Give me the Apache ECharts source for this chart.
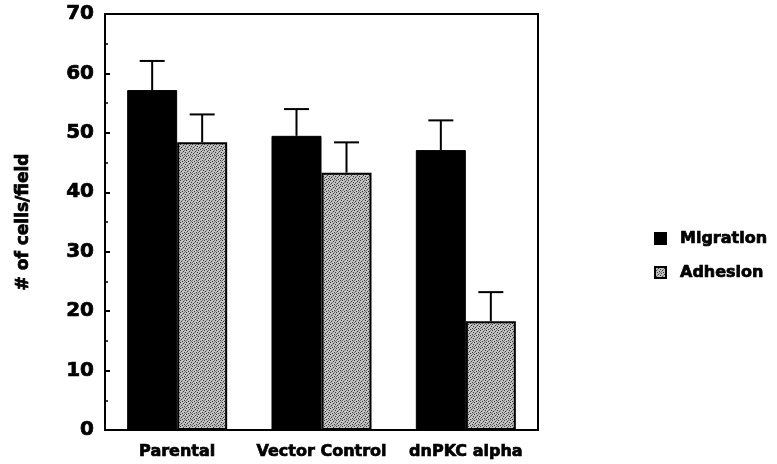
<!DOCTYPE html>
<html>
<head>
<meta charset="utf-8">
<script src="https://cdn.jsdelivr.net/npm/echarts@6/dist/echarts.min.js"></script>
<style>
  html, body { margin: 0; padding: 0; background: #fff; }
  #chart { width: 777px; height: 464px; }
</style>
</head>
<body>
<div id="chart"></div>
<script>
// Cell counts per field for each cell line
const categories = ['Parental', 'Vector Control', 'dnPKC alpha'];
const migration = [57.2, 49.5, 47.1];
const migrationHi = [62.1, 54.0, 52.1];
const adhesion = [48.4, 43.3, 18.3];
const adhesionHi = [53.1, 48.4, 23.2];
const yTicks = [0, 10, 20, 30, 40, 50, 60, 70];

// Stippled grey fill used for the adhesion bars
function stipple() {
  const c = document.createElement('canvas');
  c.width = 6; c.height = 6;
  const g = c.getContext('2d');
  g.fillStyle = '#c0c0c0';
  g.fillRect(0, 0, 6, 6);
  g.fillStyle = '#3a3a3a';
  const dots = [[0,0],[3,1],[1,3],[4,4],[2,5],[5,2]];
  dots.forEach(([x, y]) => g.fillRect(x, y, 1, 1));
  g.fillStyle = '#7a7a7a';
  [[2,2],[5,5],[0,4],[4,0]].forEach(([x, y]) => g.fillRect(x, y, 1, 1));
  return { image: c, repeat: 'repeat' };
}
const adhesionFill = stipple();

const font = '"DejaVu Sans", "Liberation Sans", Arial, sans-serif';
// Heavy lettering: bold face plus a thin outline in the same colour
const heavy = { fontFamily: font, fontWeight: 'bold', color: '#000', textBorderColor: '#000', textBorderWidth: 0.7 };
const BAR_W = 50;

function errorBars(lo, hi, offset) {
  return {
    type: 'custom',
    silent: true,
    z: 5,
    data: categories.map((c, i) => [i, lo[i], hi[i]]),
    renderItem(params, api) {
      const base = api.coord([api.value(0), api.value(1)]);
      const top = api.coord([api.value(0), api.value(2)]);
      const x = base[0] + offset;
      const style = { stroke: '#000', lineWidth: 2 };
      return {
        type: 'group',
        children: [
          { type: 'line', shape: { x1: x, y1: base[1], x2: x, y2: top[1] }, style },
          { type: 'line', shape: { x1: x - 12.5, y1: top[1], x2: x + 12.5, y2: top[1] }, style }
        ]
      };
    }
  };
}

const chart = echarts.init(document.getElementById('chart'), null, { renderer: 'canvas' });
chart.setOption({
  animation: false,
  backgroundColor: '#fff',
  grid: {
    left: 105, right: 239, top: 14, bottom: 34,
    show: true, borderColor: '#000', borderWidth: 2, backgroundColor: 'transparent'
  },
  legend: {
    orient: 'vertical',
    left: 649, top: 224,
    itemWidth: 11, itemHeight: 11, itemGap: 15,
    textStyle: Object.assign({}, heavy, { fontSize: 16, lineHeight: 19, padding: [0, 0, 0, 9] }),
    data: [
      { name: 'Migration', icon: 'rect' },
      { name: 'Adhesion', icon: 'rect' }
    ]
  },
  xAxis: {
    type: 'category',
    data: categories,
    axisLine: { lineStyle: { color: '#000', width: 2 } },
    axisTick: { inside: true, length: 4, lineStyle: { color: '#000', width: 2 } },
    axisLabel: Object.assign({}, heavy, { interval: 0, hideOverlap: false, fontSize: 16, margin: 14 })
  },
  yAxis: {
    type: 'value',
    min: 0, max: 70, interval: 10,
    name: '# of cells/field',
    nameLocation: 'middle',
    nameGap: 73,
    nameTextStyle: Object.assign({}, heavy, { fontSize: 17 }),
    axisLine: { show: true, lineStyle: { color: '#000', width: 2 } },
    axisTick: { show: true, inside: true, length: 5, lineStyle: { color: '#000', width: 2 } },
    minorTick: { show: true, splitNumber: 2, length: 3, lineStyle: { color: '#000', width: 1.5 } },
    splitLine: { show: false },
    axisLabel: Object.assign({}, heavy, {
      fontSize: 20, margin: 11,
      formatter: v => (yTicks.includes(v) ? String(v) : '')
    })
  },
  series: [
    {
      name: 'Migration',
      type: 'bar',
      data: migration,
      barWidth: BAR_W,
      barGap: '0%',
      itemStyle: { color: '#000', borderColor: '#000', borderWidth: 1 }
    },
    {
      name: 'Adhesion',
      type: 'bar',
      data: adhesion,
      barWidth: BAR_W,
      barGap: '0%',
      itemStyle: { color: adhesionFill, borderColor: '#000', borderWidth: 2 }
    },
    errorBars(migration, migrationHi, -BAR_W / 2),
    errorBars(adhesion, adhesionHi, BAR_W / 2)
  ]
});
</script>
</body>
</html>
